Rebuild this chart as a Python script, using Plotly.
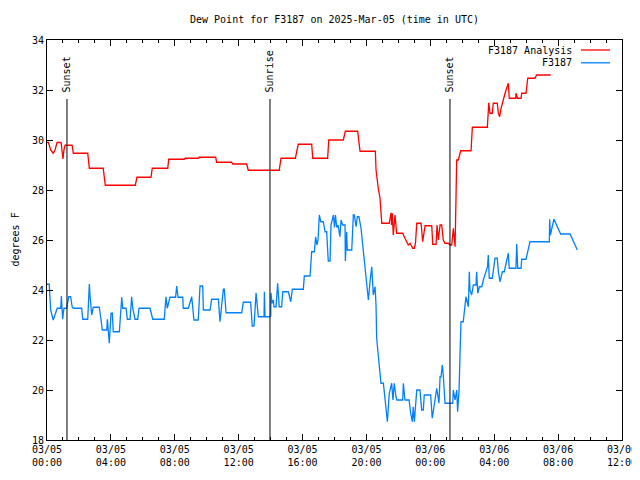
import pandas as pd
import plotly.graph_objects as go

BASE = pd.Timestamp("2025-03-05 00:00")

# ---- data (hours after 2025-03-05 00:00 UTC, degrees F) ----
analysis_hours = [0.00, 0.09, 0.23, 0.39, 0.50, 0.63, 0.88, 0.94, 1.00, 1.06, 1.13, 1.57, 1.65, 2.55, 2.60, 2.65,
                  3.52, 3.60, 3.65, 5.53, 5.62, 5.63, 6.51, 6.59, 7.56, 7.62, 8.60, 8.64, 9.50, 9.52, 10.56, 10.62,
                  11.56, 11.63, 12.50, 12.60, 14.54, 14.65, 15.55, 15.65, 15.73, 16.57, 16.64, 17.57, 17.64, 18.55,
                  18.68, 19.45, 19.60, 20.56, 20.60, 20.74, 20.85, 20.96, 21.43, 21.54, 21.58, 21.62, 21.68, 21.79,
                  21.89, 22.27, 22.31, 22.41, 22.62, 22.73, 22.90, 23.00, 23.07, 23.15, 23.42, 23.52, 23.67, 24.09,
                  24.15, 24.36, 24.42, 24.50, 24.61, 24.71, 24.81, 24.92, 25.13, 25.23, 25.34, 25.44, 25.55, 25.59,
                  25.65, 25.75, 25.83, 25.90, 26.55, 26.59, 26.63, 27.57, 27.63, 27.66, 27.74, 27.88, 27.94, 28.19,
                  28.26, 28.34, 28.43, 28.57, 28.68, 28.78, 28.88, 28.94, 29.35, 29.36, 29.46, 29.68, 29.72, 29.99,
                  30.10, 30.55, 30.66, 31.54]
analysis_values = [29.90, 29.90, 29.60, 29.47, 29.60, 29.90, 29.90, 29.50, 29.24, 29.60, 29.79, 29.79, 29.47, 29.47,
                   29.20, 28.87, 28.87, 28.50, 28.19, 28.19, 28.40, 28.51, 28.51, 28.87, 28.87, 29.23, 29.23, 29.27,
                   29.27, 29.31, 29.31, 29.11, 29.11, 29.04, 29.04, 28.79, 28.79, 29.27, 29.27, 29.60, 29.83, 29.83,
                   29.27, 29.27, 30.00, 30.00, 30.35, 30.35, 29.55, 29.55, 28.80, 28.07, 27.67, 26.67, 26.67, 27.09,
                   26.60, 27.07, 26.20, 27.00, 26.27, 26.27, 26.20, 26.07, 25.80, 25.87, 25.67, 25.67, 25.87, 26.67,
                   26.67, 25.93, 26.57, 26.57, 25.83, 25.83, 26.60, 26.00, 26.60, 26.60, 26.00, 25.87, 25.87, 25.80,
                   25.80, 26.47, 25.73, 27.47, 29.20, 29.20, 29.45, 29.57, 29.57, 30.07, 30.51, 30.51, 31.00, 31.49,
                   31.07, 31.07, 31.47, 31.47, 31.07, 30.93, 31.27, 31.67, 31.87, 32.07, 32.27, 31.67, 31.67, 31.87,
                   31.67, 31.67, 31.87, 31.87, 32.47, 32.47, 32.60, 32.60]

obs_hours = [0.00, 0.14, 0.23, 0.39, 0.64, 0.86, 0.90, 0.98, 1.06, 1.23, 1.36, 1.48, 1.58, 1.65, 2.17, 2.24, 2.55,
             2.65, 2.69, 2.80, 2.90, 3.27, 3.38, 3.46, 3.74, 3.78, 3.90, 4.01, 4.09, 4.15, 4.53, 4.68, 4.74, 4.95,
             5.03, 5.20, 5.30, 5.37, 5.51, 5.68, 5.76, 6.45, 6.62, 7.34, 7.45, 7.53, 7.70, 8.05, 8.12, 8.20, 8.50,
             8.53, 8.85, 9.06, 9.20, 9.47, 9.58, 9.75, 9.79, 10.21, 10.31, 10.73, 10.83, 11.04, 11.10, 11.21, 12.19,
             12.29, 12.75, 12.85, 12.96, 13.09, 13.23, 13.59, 13.61, 13.65, 13.92, 14.01, 14.02, 14.09, 14.17, 14.21,
             14.34, 14.44, 14.54, 14.69, 14.76, 15.11, 15.26, 15.36, 16.05, 16.11, 16.47, 16.57, 16.74, 16.82, 16.90,
             16.97, 17.05, 17.14, 17.30, 17.41, 17.51, 17.61, 17.72, 17.78, 17.93, 18.00, 18.06, 18.14, 18.22, 18.34,
             18.41, 18.51, 18.66, 18.68, 18.76, 18.80, 19.08, 19.18, 19.24, 19.35, 19.43, 19.53, 19.66, 19.78, 19.91,
             20.12, 20.22, 20.33, 20.43, 20.54, 20.60, 20.64, 20.71, 20.85, 20.91, 21.06, 21.22, 21.31, 21.43, 21.58,
             21.66, 21.74, 21.85, 21.90, 22.27, 22.31, 22.41, 22.67, 22.77, 22.87, 22.93, 23.00, 23.15, 23.35, 23.46,
             23.56, 23.62, 24.02, 24.12, 24.23, 24.40, 24.54, 24.61, 24.67, 24.75, 24.81, 24.86, 24.92, 25.40, 25.44,
             25.55, 25.65, 25.71, 25.80, 25.86, 25.92, 26.06, 26.11, 26.17, 26.23, 26.38, 26.44, 26.48, 26.59, 26.69,
             26.86, 26.90, 26.97, 27.07, 27.22, 27.32, 27.47, 27.58, 27.63, 27.69, 27.88, 27.99, 28.05, 28.19, 28.26,
             28.36, 28.51, 28.63, 28.78, 28.88, 28.94, 29.36, 29.41, 29.47, 29.68, 29.72, 29.99, 30.10, 30.24, 31.45,
             31.47, 31.52, 31.56, 31.62, 31.74, 32.16, 32.75, 33.20]
obs_values = [24.23, 24.23, 23.20, 22.80, 23.27, 23.27, 23.76, 22.83, 23.27, 23.27, 23.73, 23.73, 23.31, 23.27, 23.27,
              22.83, 22.83, 24.24, 23.80, 23.00, 23.31, 23.31, 22.83, 22.40, 22.40, 22.83, 21.87, 23.07, 23.07, 22.33,
              22.33, 23.71, 23.27, 23.27, 22.83, 22.83, 23.73, 23.27, 22.83, 22.83, 23.27, 23.27, 22.83, 22.83, 23.73,
              23.27, 23.71, 23.71, 24.16, 23.71, 23.71, 23.27, 23.27, 23.73, 22.80, 22.80, 24.16, 24.16, 23.20, 23.20,
              23.63, 23.63, 22.73, 24.03, 24.03, 23.09, 23.09, 23.51, 23.51, 22.56, 22.56, 23.89, 22.93, 22.93, 23.93,
              22.93, 22.93, 22.96, 23.89, 23.47, 23.60, 23.33, 23.33, 24.27, 23.33, 23.33, 23.93, 23.93, 23.53, 24.03,
              24.03, 24.56, 24.56, 25.53, 25.53, 26.13, 25.80, 26.00, 27.00, 26.73, 26.73, 26.33, 26.33, 25.16, 25.16,
              26.60, 27.00, 26.50, 27.00, 26.50, 26.60, 26.13, 26.80, 26.60, 26.60, 25.16, 26.33, 25.60, 25.60, 27.00,
              27.00, 26.53, 26.93, 26.93, 26.47, 25.70, 24.93, 23.60, 24.30, 24.93, 23.80, 24.13, 23.40, 22.07, 21.60,
              20.67, 20.27, 20.27, 19.33, 18.73, 19.87, 20.27, 19.60, 20.27, 19.73, 19.60, 19.60, 20.27, 19.60, 19.60,
              19.07, 18.73, 19.33, 18.73, 20.00, 20.00, 19.20, 19.20, 19.80, 19.80, 18.87, 19.33, 20.07, 19.47, 20.53,
              20.53, 21.00, 20.60, 20.07, 19.47, 19.47, 20.00, 19.60, 20.00, 19.13, 20.00, 21.47, 22.73, 22.73, 23.07,
              23.53, 23.73, 23.33, 24.73, 24.00, 23.80, 24.20, 24.20, 24.73, 23.87, 24.13, 24.13, 24.40, 24.67, 24.93,
              25.40, 24.47, 24.47, 24.93, 25.27, 25.27, 24.73, 24.33, 24.73, 24.73, 25.20, 25.47, 24.87, 24.87, 25.84,
              24.87, 24.87, 25.23, 25.23, 25.53, 25.93, 25.93, 26.83, 26.20, 26.40, 26.50, 26.83, 26.24, 26.24, 25.60]

sun_hours = [1.25, 13.96, 25.23]
sun_labels = ["Sunset", "Sunrise", "Sunset"]
sun_line_top = 31.64

series_names = ["F3187 Analysis", "F3187"]
series_colors = ["#ff0000", "#0080ff"]

y_ticks = [18, 20, 22, 24, 26, 28, 30, 32, 34]


def to_time(hours):
    return BASE + pd.to_timedelta(hours, unit="h")


FONT = "DejaVu Sans Mono"
# page body has an 8px margin, so the figure is 8px smaller than the window
W, H = 632, 472
L, R, T, B = 39, 18, 32, 40

fig = go.Figure()
fig.add_trace(go.Scatter(x=to_time(analysis_hours), y=analysis_values, mode="lines",
                         line=dict(color=series_colors[0], width=1.3), name=series_names[0]))
fig.add_trace(go.Scatter(x=to_time(obs_hours), y=obs_values, mode="lines",
                         line=dict(color=series_colors[1], width=1.3), name=series_names[1]))

shapes = []
annotations = []
for h, lab in zip(sun_hours, sun_labels):
    t = to_time([h])[0]
    shapes.append(dict(type="line", xref="x", yref="y", x0=t, x1=t, y0=18, y1=sun_line_top,
                       line=dict(color="black", width=1)))
    annotations.append(dict(x=t, y=sun_line_top + 0.18, xref="x", yref="y", text=lab, showarrow=False,
                            textangle=-90, xanchor="center", yanchor="bottom",
                            font=dict(family=FONT, size=10, color="black")))

# legend drawn gnuplot-style: text, then sample line on its right
legend_rows = [0.975, 0.943]
for name, col, yp in zip(series_names, series_colors, legend_rows):
    annotations.append(dict(x=0.9165, y=yp, xref="paper", yref="paper", text=name, showarrow=False,
                            xanchor="right", yanchor="middle", font=dict(family=FONT, size=10, color="black")))
    shapes.append(dict(type="line", xref="paper", yref="paper", x0=0.9287, x1=0.9791, y0=yp, y1=yp,
                       line=dict(color=col, width=1.3)))

annotations.append(dict(x=0, y=0.5, xref="paper", yref="paper", xshift=-32.5, text="degrees F",
                        showarrow=False, textangle=-90, xanchor="center", yanchor="middle",
                        font=dict(family=FONT, size=10, color="black")))

fig.update_layout(
    width=W, height=H,
    margin=dict(l=L, r=R, t=T, b=B, autoexpand=False),
    paper_bgcolor="white", plot_bgcolor="white",
    showlegend=False,
    title=dict(text="Dew Point for F3187 on 2025-Mar-05 (time in UTC)", x=(L + (W - R)) / 2 / W,
               xanchor="center", y=1 - 11 / H, yanchor="middle", automargin=False,
               font=dict(family=FONT, size=10, color="black")),
    shapes=shapes, annotations=annotations,
    font=dict(family=FONT, size=10, color="black"),
)
fig.update_xaxes(
    type="date", range=[BASE, BASE + pd.Timedelta(hours=36)], automargin=False,
    tick0=BASE, dtick=4 * 3600 * 1000, tickformat="%m/%d<br>%H:%M",
    ticks="inside", ticklen=6, tickcolor="black", tickwidth=1,
    minor=dict(dtick=3600 * 1000, ticks="inside", ticklen=3, tickcolor="black", showgrid=False),
    showline=True, linecolor="black", linewidth=1, mirror="ticks",
    showgrid=False, zeroline=False,
    tickfont=dict(family=FONT, size=10, color="black"),
)
fig.update_yaxes(
    range=[18, 34], tickvals=y_ticks, ticktext=[str(v) for v in y_ticks], automargin=False,
    ticks="inside", ticklen=6, tickcolor="black", tickwidth=1,
    showline=True, linecolor="black", linewidth=1, mirror="ticks",
    showgrid=False, zeroline=False,
    tickfont=dict(family=FONT, size=10, color="black"),
)

fig.write_html("out.html")
